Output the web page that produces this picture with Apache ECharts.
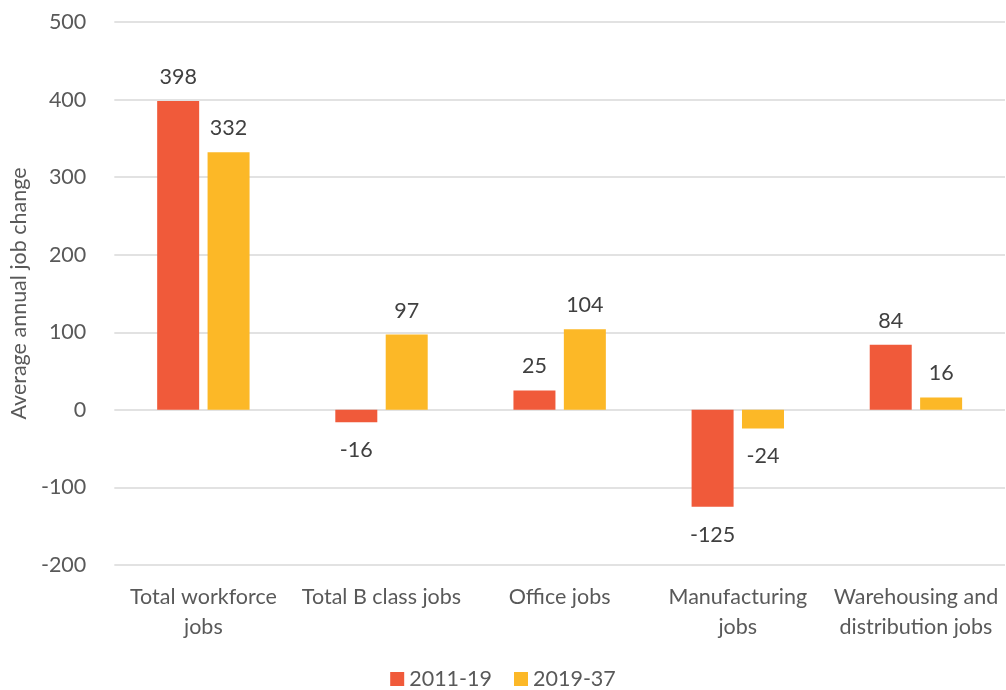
<!DOCTYPE html>
<html>
<head>
<meta charset="utf-8">
<script src="https://cdn.jsdelivr.net/npm/echarts@6/dist/echarts.min.js"></script>
<style>html,body{margin:0;padding:0;background:#fff;}#c{width:1006px;height:690px;}</style>
</head>
<body>
<div id="c"></div>
<script>
const categories = ["Total workforce\njobs", "Total B class jobs", "Office jobs", "Manufacturing\njobs", "Warehousing and\ndistribution jobs"];
const series2011 = [398, -16, 25, -125, 84];
const series2019 = [332, 97, 104, -24, 16];
const yTicks = { min: -200, max: 500, interval: 100 };

const font = "Lato, 'Open Sans', 'Noto Sans', sans-serif";
const FS = 21.5;
function mk(arr){ return arr.map(v => ({ value: v, label: v < 0 ? { position: 'bottom', distance: 17 } : { position: 'top', distance: 13 } })); }
const labelCfg = { show: true, color: '#404040', fontSize: FS, fontFamily: font };
const chart = echarts.init(document.getElementById('c'));
chart.setOption({
  animation: false,
  grid: { left: 114, right: 1, top: 22, bottom: 125 },
  legend: {
    top: 668, left: 'center', padding: 0, itemWidth: 14, itemHeight: 14, itemGap: 22,
    icon: 'rect',
    textStyle: { color: '#595959', fontSize: FS, fontFamily: font },
    data: ['2011-19', '2019-37']
  },
  xAxis: {
    type: 'category', data: categories,
    axisLine: { show: false, onZero: false }, axisTick: { show: false },
    axisLabel: { color: '#595959', fontSize: FS, fontFamily: font, margin: 17, lineHeight: 30, interval: 0 }
  },
  yAxis: {
    type: 'value', min: yTicks.min, max: yTicks.max, interval: yTicks.interval,
    name: 'Average annual job change', nameLocation: 'middle', nameGap: 84,
    nameTextStyle: { color: '#595959', fontSize: FS, fontFamily: font },
    axisLine: { show: false }, axisTick: { show: false },
    axisLabel: { color: '#595959', fontSize: FS, fontFamily: font, margin: 28 },
    splitLine: { lineStyle: { color: '#D9D9D9', width: 1.5 } }
  },
  series: [
    { name: '2011-19', type: 'bar', data: mk(series2011), barWidth: 42, barGap: '20%',
      itemStyle: { color: '#F05A3A' }, label: labelCfg },
    { name: '2019-37', type: 'bar', data: mk(series2019), barWidth: 42,
      itemStyle: { color: '#FCB827' }, label: labelCfg }
  ]
});
</script>
</body>
</html>
